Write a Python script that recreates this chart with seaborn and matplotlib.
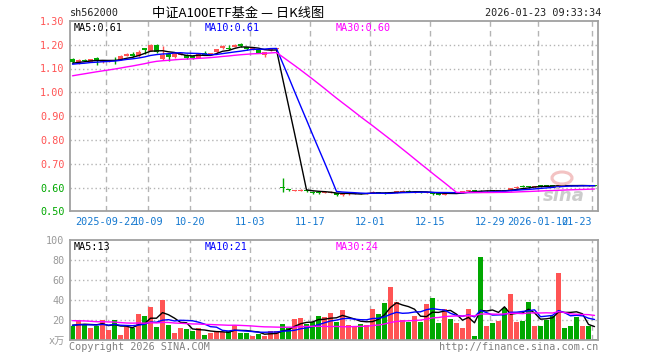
import numpy as np
import pandas as pd
import matplotlib
matplotlib.use("Agg")
import matplotlib.pyplot as plt
from matplotlib.patches import Ellipse
import seaborn as sns

# ---------------- data ----------------
tick_idx = [6, 13, 20, 30, 40, 50, 60, 70, 78, 87]
tick_labels = ["2025-09-22", "10-09", "10-20", "11-03", "11-17", "12-01",
               "12-15", "12-29", "2026-01-12", "01-23"]

open_ = [1.141, 1.122, 1.136, 1.129, 1.146, 1.126, 1.130, 1.136, 1.136, 1.154,
         1.160, 1.153, 1.185, 1.175, 1.200, 1.139, 1.160, 1.147, 1.157, 1.157,
         1.153, 1.146, 1.167, 1.160, 1.169, 1.185, 1.185, 1.192, 1.203, 1.189,
         1.181, 1.178, 1.157, 1.176, 1.183, 0.603, 0.592, 0.586, 0.587, 0.590,
         0.583, 0.582, 0.577, 0.577, 0.575, 0.568, 0.571, 0.573, 0.576, 0.574,
         0.577, 0.580, 0.578, 0.576, 0.579, 0.582, 0.586, 0.579, 0.582, 0.578,
         0.580, 0.575, 0.570, 0.578, 0.576, 0.579, 0.584, 0.588, 0.587, 0.584,
         0.588, 0.585, 0.589, 0.587, 0.596, 0.606, 0.605, 0.602, 0.609, 0.610,
         0.610, 0.605, 0.611, 0.610, 0.609, 0.606, 0.609, 0.608]
close = [1.128, 1.136, 1.132, 1.139, 1.132, 1.132, 1.134, 1.133, 1.153, 1.162,
         1.153, 1.170, 1.178, 1.200, 1.169, 1.157, 1.147, 1.164, 1.164, 1.143,
         1.146, 1.164, 1.158, 1.164, 1.181, 1.195, 1.181, 1.200, 1.195, 1.181,
         1.185, 1.167, 1.168, 1.184, 1.186, 0.597, 0.588, 0.588, 0.591, 0.587,
         0.578, 0.576, 0.581, 0.580, 0.569, 0.571, 0.574, 0.575, 0.574, 0.577,
         0.583, 0.577, 0.575, 0.579, 0.584, 0.586, 0.580, 0.582, 0.579, 0.581,
         0.573, 0.570, 0.575, 0.576, 0.579, 0.584, 0.588, 0.586, 0.584, 0.587,
         0.585, 0.588, 0.586, 0.596, 0.603, 0.603, 0.602, 0.606, 0.606, 0.607,
         0.607, 0.610, 0.608, 0.608, 0.607, 0.609, 0.607, 0.607]
high = [1.143, 1.140, 1.139, 1.141, 1.148, 1.135, 1.136, 1.147, 1.155, 1.164,
        1.169, 1.176, 1.186, 1.201, 1.201, 1.196, 1.162, 1.166, 1.167, 1.162,
        1.156, 1.166, 1.174, 1.166, 1.183, 1.197, 1.200, 1.202, 1.209, 1.191,
        1.187, 1.180, 1.170, 1.186, 1.188, 0.639, 0.594, 0.590, 0.593, 0.591,
        0.585, 0.583, 0.582, 0.585, 0.577, 0.572, 0.576, 0.576, 0.578, 0.578,
        0.584, 0.582, 0.579, 0.580, 0.586, 0.588, 0.588, 0.583, 0.583, 0.582,
        0.581, 0.576, 0.577, 0.579, 0.580, 0.585, 0.589, 0.589, 0.590, 0.588,
        0.590, 0.589, 0.591, 0.597, 0.605, 0.609, 0.607, 0.607, 0.611, 0.612,
        0.612, 0.612, 0.613, 0.611, 0.610, 0.610, 0.610, 0.609]
low = [1.125, 1.118, 1.130, 1.127, 1.115, 1.124, 1.128, 1.118, 1.134, 1.152,
       1.150, 1.150, 1.161, 1.173, 1.167, 1.136, 1.133, 1.145, 1.155, 1.140,
       1.140, 1.144, 1.156, 1.158, 1.167, 1.183, 1.178, 1.190, 1.189, 1.179,
       1.179, 1.165, 1.150, 1.172, 1.180, 0.582, 0.585, 0.584, 0.586, 0.583,
       0.574, 0.574, 0.576, 0.575, 0.565, 0.566, 0.570, 0.572, 0.572, 0.573,
       0.576, 0.576, 0.574, 0.575, 0.578, 0.581, 0.579, 0.578, 0.577, 0.577,
       0.570, 0.568, 0.568, 0.575, 0.575, 0.578, 0.583, 0.585, 0.583, 0.583,
       0.584, 0.584, 0.585, 0.586, 0.595, 0.601, 0.600, 0.600, 0.604, 0.605,
       0.605, 0.604, 0.607, 0.606, 0.606, 0.605, 0.606, 0.606]
vol = [14.5, 20.5, 15.5, 12.5, 14.5, 20.5, 10.5, 20.5, 5.5, 13.5,
       12.5, 26.5, 24.5, 33.5, 13.5, 40.5, 15.8, 7.5, 12.5, 11.5,
       9.5, 12.5, 5.5, 7.5, 8.5, 8.5, 9.8, 15.5, 7.5, 7.5,
       4.5, 6.5, 4.5, 9.5, 9.5, 16.5, 12.5, 21.5, 22.5, 16.5,
       18.5, 24.5, 23.5, 27.5, 18.5, 30.5, 15.5, 14.5, 16.5, 15.5,
       31.5, 26.5, 37.5, 53.5, 38.5, 20.5, 18.5, 24.5, 18.5, 36.5,
       42.5, 17.5, 31.5, 21.5, 17.5, 12.5, 31.5, 4.5, 83.5, 14.5,
       17.5, 19.5, 32.5, 46.5, 18.5, 19.5, 38.5, 14.5, 14.5, 20.5,
       24.5, 67.5, 12.5, 14.5, 23.5, 14.5, 14.5, 1.5]

# sessions before the visible window (only feed the moving averages)
hist_close = [1.005, 1.010, 1.012, 1.008, 1.015, 1.020, 1.018, 1.025, 1.022, 1.030,
              1.028, 1.035, 1.032, 1.040, 1.080, 1.095, 1.100, 1.105, 1.110, 1.108,
              1.112, 1.115, 1.110, 1.118, 1.114, 1.120, 1.118, 1.122, 1.124]
hist_vol = [25, 19, 23, 28, 20, 18, 24, 21, 26, 17, 22, 30, 19, 21, 23, 18, 25, 20,
            22, 19, 14, 17, 12, 16, 15, 18, 13, 14, 16]

ma_windows = [5, 10, 30]
price_ma_text = ["0.61", "0.61", "0.60"]
vol_ma_text = ["13", "21", "24"]
price_ticks = [0.50, 0.60, 0.70, 0.80, 0.90, 1.00, 1.10, 1.20, 1.30]
vol_ticks = [0, 20, 40, 60, 80, 100]

# ---------------- style ----------------
RED = "#ff5454"
GREEN = "#00a800"
MA_COLORS = ["#000000", "#0000ff", "#ff00ff"]
GRID = "#b4b4b4"
SPINE = "#a0a0a0"
TICKBLUE = "#1478d0"
MONO = ["DejaVu Sans Mono", "Noto Sans CJK SC"]
FS = 7.3

sns.set_theme(style="white")
plt.rcParams["font.family"] = MONO

W, H = 660, 360
fig = plt.figure(figsize=(W / 100, H / 100), dpi=100)
fig.patch.set_facecolor("white")


def fx(px):
    return px / W


def fy(py):
    return 1 - py / H


L, R = 70, 598
ax = fig.add_axes([fx(L), fy(211.3), fx(R) - fx(L), fy(20.9) - fy(211.3)])
axv = fig.add_axes([fx(L), fy(340.3), fx(R) - fx(L), fy(240.3) - fy(340.3)])

n = len(close)
idx = np.arange(n)
up = [c >= o for o, c in zip(open_, close)]
cols = [RED if u else GREEN for u in up]
xlim = (-2.5 / 6, (R - 72.5) / 6)
grid_x = [t - 2.5 / 6 for t in tick_idx]

# ---------------- price panel ----------------
for y in price_ticks[1:-1]:
    ax.axhline(y, color=GRID, lw=1, ls=(0, (1, 2)), zorder=0)
for gx in grid_x:
    ax.axvline(gx, color=GRID, lw=1, ls=(0, (4, 3)), zorder=0)

ax.vlines(idx, low, high, colors=cols, lw=1, zorder=2)
body_bottom = [min(o, c) for o, c in zip(open_, close)]
body_h = [max(abs(c - o), 0.0018) for o, c in zip(open_, close)]
ax.bar(idx, body_h, bottom=body_bottom, width=0.8, color=cols, lw=0, zorder=3)

all_close = pd.Series(hist_close + close)
for w, c in zip(ma_windows, MA_COLORS):
    ma = all_close.rolling(w).mean().iloc[len(hist_close):].to_numpy()
    sns.lineplot(x=idx, y=ma, color=c, lw=1.0, ax=ax, estimator=None, zorder=4)

ax.set_xlim(*xlim)
ax.set_ylim(0.50, 1.30)
ax.set_yticks(price_ticks)
ax.set_yticklabels([f"{t:.2f}" for t in price_ticks], fontsize=FS)
for lab, t in zip(ax.get_yticklabels(), price_ticks):
    lab.set_color(RED if t > 0.65 else GREEN)
ax.set_xticks(grid_x)
ax.set_xticklabels(tick_labels, fontsize=FS, color=TICKBLUE)
xl = ax.get_xticklabels()
xl[-1].set_ha("right")
ax.tick_params(axis="both", length=0)
ax.tick_params(axis="y", pad=4)
ax.tick_params(axis="x", pad=4)
for s in ax.spines.values():
    s.set_color(SPINE)
    s.set_linewidth(1.3)
ax.set_xlabel("")
ax.set_ylabel("")

# ---------------- volume panel ----------------
for y in vol_ticks[1:-1]:
    axv.axhline(y, color=GRID, lw=1, ls=(0, (1, 2)), zorder=0)
for gx in grid_x:
    axv.axvline(gx, color=GRID, lw=1, ls=(0, (4, 3)), zorder=0)

vdf = pd.DataFrame({"idx": idx, "vol": vol, "dir": ["up" if u else "down" for u in up]})
sns.barplot(data=vdf, x="idx", y="vol", hue="dir", palette={"up": RED, "down": GREEN},
            native_scale=True, dodge=False, width=0.8, saturation=1, linewidth=0,
            legend=False, errorbar=None, ax=axv, zorder=2)

all_vol = pd.Series([float(v) for v in hist_vol] + vol)
for w, c in zip(ma_windows, MA_COLORS):
    ma = all_vol.rolling(w).mean().iloc[len(hist_vol):].to_numpy()
    sns.lineplot(x=idx, y=ma, color=c, lw=1.0, ax=axv, estimator=None, zorder=4)

axv.set_xlim(*xlim)
axv.set_ylim(0, 100)
axv.set_xticks([])
axv.set_yticks(vol_ticks)
axv.set_yticklabels(["x万"] + [str(t) for t in vol_ticks[1:]], fontsize=FS, color="#9a9a9a")
axv.tick_params(axis="both", length=0)
axv.tick_params(axis="y", pad=4)
for s in axv.spines.values():
    s.set_color(SPINE)
    s.set_linewidth(1.3)
axv.set_xlabel("")
axv.set_ylabel("")

# ---------------- texts ----------------
fig.text(fx(70), fy(13), "sh562000", fontsize=FS, color="#222222", va="center", ha="left")
fig.text(fx(238), fy(13), "中证A100ETF基金 — 日K线图", fontsize=9.5, color="black",
         va="center", ha="center", family=["Noto Sans CJK SC", "DejaVu Sans"])
fig.text(fx(601), fy(13), "2026-01-23 09:33:34", fontsize=FS, color="#222222",
         va="center", ha="right")

ma_x = [74, 205, 336]
for i, (w, c) in enumerate(zip(ma_windows, MA_COLORS)):
    fig.text(fx(ma_x[i]), fy(28), f"MA{w}:{price_ma_text[i]}", fontsize=FS, color=c,
             va="center", ha="left")
    fig.text(fx(ma_x[i]), fy(247), f"MA{w}:{vol_ma_text[i]}", fontsize=FS, color=c,
             va="center", ha="left")

fig.text(fx(69), fy(347), "Copyright 2026 SINA.COM", fontsize=FS, color="#808080",
         va="center", ha="left")
fig.text(fx(598), fy(347), "http://finance.sina.com.cn", fontsize=FS, color="#808080",
         va="center", ha="right")

# sina watermark
fig.add_artist(Ellipse((fx(562), fy(178)), width=fx(20), height=12 / H, fill=False,
                       edgecolor="#f0b4b4", lw=2.2, alpha=0.8))
fig.text(fx(564), fy(196), "sina", fontsize=13, color="#c4c4c4", style="italic",
         weight="bold", va="center", ha="center", family="DejaVu Sans", alpha=0.85)

fig.savefig("out.png", dpi=100, facecolor="white")
